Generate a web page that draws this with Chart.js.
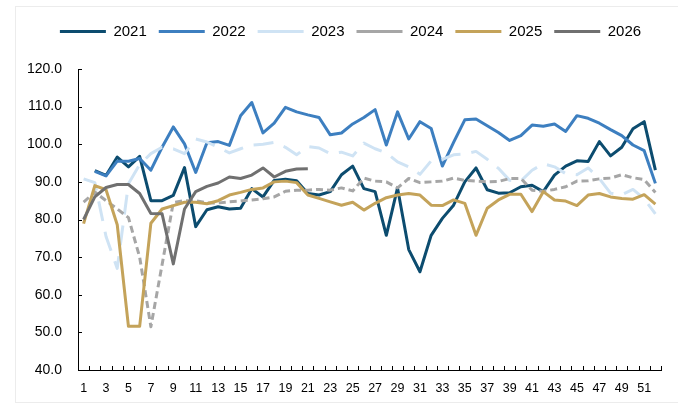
<!DOCTYPE html>
<html lang="en">
<head>
<meta charset="UTF-8">
<title>Weekly index 2021-2026</title>
<script src="https://cdn.jsdelivr.net/npm/chart.js"></script>
<style>
  html, body { margin: 0; padding: 0; background: #fff; }
  #wrap { position: relative; width: 678px; height: 405px; }
  #frame { position: absolute; left: 15px; top: 6px; width: 670px; height: 395px; border: 1px solid #ececec; pointer-events: none; }
</style>
</head>
<body>
<div id="wrap">
  <canvas id="weekChart" width="678" height="405"></canvas>
  <div id="frame"></div>
</div>

<script>
  const weeks = ['1','2','3','4','5','6','7','8','9','10','11','12','13','14','15','16','17','18','19','20',
    '21','22','23','24','25','26','27','28','29','30','31','32','33','34','35','36','37','38','39','40',
    '41','42','43','44','45','46','47','48','49','50','51','52'];

  const y2021 = [null, 93.0, 91.7, 96.6, 94.0, 96.8, 85.0, 85.0, 86.4, 93.8, 78.1, 82.6, 83.4, 82.8, 83.0, 88.2, 86.0, 90.4, 90.7, 90.3,
    86.9, 86.5, 87.4, 91.9, 94.2, 88.2, 87.4, 75.8, 88.4, 72.0, 66.1, 75.8, 80.3, 83.8, 90.0, 93.7, 87.9, 87.0, 87.1, 88.7,
    89.1, 87.4, 91.8, 94.2, 95.6, 95.4, 100.7, 96.9, 99.2, 104.1, 106.0, 93.1];
  const y2022 = [null, 92.8, 91.6, 95.5, 95.5, 96.2, 93.1, 99.2, 104.6, 100.1, 92.5, 100.4, 100.7, 99.7, 107.6, 111.1, 103.0, 105.6, 109.8, 108.6,
    107.8, 107.1, 102.5, 103.0, 105.4, 107.1, 109.2, 99.8, 108.6, 101.4, 106.0, 104.2, 94.2, 100.5, 106.5, 106.7, 104.9, 103.1, 101.0, 102.3,
    105.1, 104.8, 105.4, 103.4, 107.6, 106.9, 105.6, 103.9, 102.3, 99.8, 98.3, 89.6];
  const y2023 = [90.8, 89.8, 75.5, 67.0, 89.5, 94.6, 97.5, 99.2, 98.8, 97.5, 101.4, 100.6, 99.2, 97.7, 98.8, 99.8, 100.0, 100.5, 99.2, 97.2,
    99.4, 99.0, 97.5, 97.9, 96.9, 100.3, 98.8, 97.7, 95.3, 94.0, 92.0, 95.6, 96.0, 97.2, 97.4, 98.1, 96.0, 93.6, 90.4, 90.2,
    93.1, 94.8, 94.0, 92.2, 91.9, 93.7, 90.9, 87.0, 86.6, 88.0, 85.5, 81.5];
  const y2024 = [84.6, 87.3, 85.0, 82.8, 80.5, 70.0, 51.5, 68.0, 84.5, 85.0, 85.0, 84.4, 84.4, 84.7, 84.9, 85.2, 85.5, 86.0, 87.5, 87.8,
    87.8, 88.0, 87.8, 88.4, 87.6, 91.0, 90.2, 90.0, 88.4, 90.9, 89.8, 90.0, 90.2, 91.0, 90.4, 90.2, 90.0, 90.1, 90.9, 90.9,
    87.8, 87.5, 88.0, 88.7, 90.2, 90.3, 90.8, 91.0, 91.9, 91.1, 90.6, 87.2];
  const y2025 = [78.9, 89.0, 87.9, 78.6, 51.6, 51.6, 79.0, 82.8, 83.7, 84.6, 84.6, 84.2, 85.0, 86.5, 87.2, 88.0, 88.4, 90.0, 90.2, 89.8,
    86.5, 85.6, 84.7, 83.8, 84.6, 82.5, 84.3, 85.8, 86.5, 86.9, 86.5, 83.8, 83.7, 85.2, 84.3, 75.8, 83.0, 85.2, 86.7, 86.7,
    82.1, 87.4, 85.2, 84.9, 83.7, 86.5, 86.9, 86.0, 85.6, 85.4, 86.6, 84.1];
  const y2026 = [80.0, 86.0, 88.5, 89.3, 89.3, 86.9, 81.6, 81.5, 68.2, 82.8, 87.4, 88.8, 89.7, 91.3, 90.9, 91.8, 93.7, 91.3, 92.8, 93.4,
    93.5];

  const fontFamily = "'Liberation Sans', Arial, sans-serif";

  // small tick marks pointing into the plot, like the original
  const innerTicks = {
    id: 'innerTicks',
    afterDraw(chart) {
      const { ctx, chartArea: a, scales: { x, y } } = chart;
      ctx.save();
      ctx.strokeStyle = '#000';
      ctx.lineWidth = 1;
      ctx.beginPath();
      y.ticks.forEach(t => {
        const py = Math.round(y.getPixelForValue(t.value)) + 0.5;
        ctx.moveTo(a.left, py);
        ctx.lineTo(a.left + 4, py);
      });
      const step = x.getPixelForValue(1) - x.getPixelForValue(0);
      for (let i = 0; i <= weeks.length; i++) {
        const px = Math.round(x.getPixelForValue(i) - step / 2) + 0.5;
        ctx.moveTo(px, a.bottom);
        ctx.lineTo(px, a.bottom - 4);
      }
      ctx.stroke();
      ctx.restore();
    }
  };

  // more room under the legend, and legend nudged right a bit
  const legendTweak = {
    id: 'legendTweak',
    beforeInit(chart) {
      const lg = chart.legend;
      const fit = lg.fit;
      lg.fit = function () {
        fit.call(this);
        this.height += 20;
      };
      const draw = lg.draw;
      lg.draw = function () {
        this.left += 10; this.right += 10;
        draw.call(this);
        this.left -= 10; this.right -= 10;
      };
    }
  };

  function line(label, data, color, order, dash) {
    return {
      label: label,
      data: data,
      borderColor: color,
      backgroundColor: color,
      borderWidth: 3,
      borderDash: dash || [],
      borderJoinStyle: 'round',
      pointRadius: 0,
      tension: 0,
      order: order
    };
  }

  const ctx = document.getElementById('weekChart').getContext('2d');
  new Chart(ctx, {
    type: 'line',
    data: {
      labels: weeks,
      datasets: [
        line('2021', y2021, '#0c4c6f', 5),
        line('2022', y2022, '#3d7fc0', 4),
        line('2023', y2023, '#cfe3f4', 3, [20, 11]),
        line('2024', y2024, '#a6a6a6', 2, [7, 4]),
        line('2025', y2025, '#c4a35a', 1),
        line('2026', y2026, '#707070', 0)
      ]
    },
    plugins: [innerTicks, legendTweak],
    options: {
      responsive: false,
      animation: false,
      layout: { padding: { left: 20, right: 17, top: 12, bottom: 8 } },
      plugins: {
        tooltip: { enabled: false },
        legend: {
          position: 'top',
          labels: {
            usePointStyle: true,
            pointStyle: 'line',
            pointStyleWidth: 46,
            padding: 12,
            color: '#000',
            font: { family: fontFamily, size: 15 },
            sort: (a, b) => a.datasetIndex - b.datasetIndex
          }
        }
      },
      scales: {
        x: {
          offset: true,
          grid: { display: true, drawOnChartArea: false, drawTicks: false, offset: true },
          border: { display: true, color: '#000', width: 1 },
          ticks: {
            autoSkip: false,
            maxRotation: 0,
            padding: 11,
            color: '#000',
            font: { family: fontFamily, size: 12.5 },
            callback: function (value, index) {
              return index % 2 === 0 ? weeks[index] : '';
            }
          },
          afterFit: s => { s.height = 27; }
        },
        y: {
          min: 40,
          max: 120,
          grid: { display: true, drawOnChartArea: false, drawTicks: false },
          border: { display: true, color: '#000', width: 1 },
          ticks: {
            stepSize: 10,
            padding: 16,
            color: '#000',
            font: { family: fontFamily, size: 14 },
            callback: v => v.toFixed(1)
          },
          afterFit: s => { s.width = 58; }
        }
      }
    }
  });
</script>
</body>
</html>
